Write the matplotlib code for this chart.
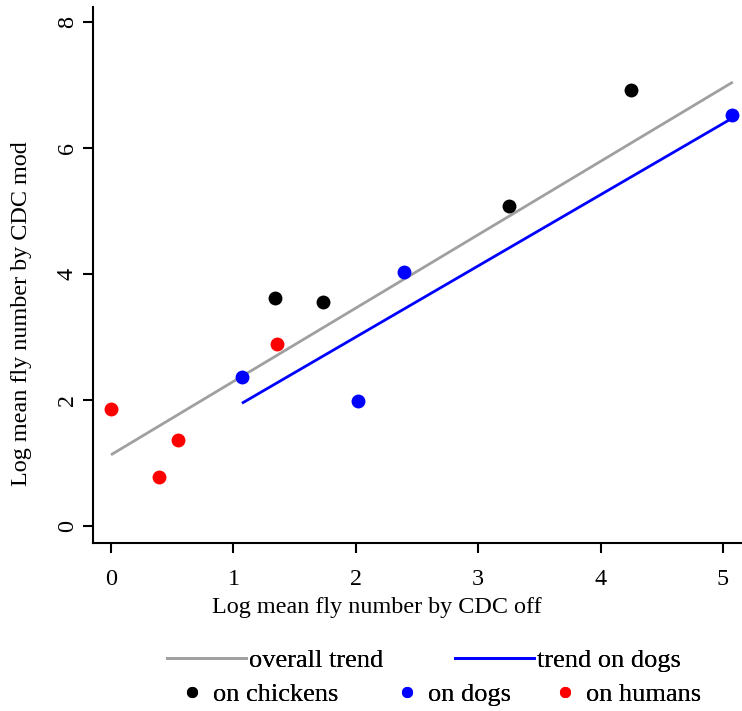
import matplotlib
matplotlib.use('Agg')
import matplotlib.pyplot as plt
from matplotlib.lines import Line2D

# data
chicken_x = [1.34, 1.73, 3.25, 4.25]
chicken_y = [3.62, 3.55, 5.08, 6.93]
dog_x = [1.07, 2.02, 2.39, 5.07]
dog_y = [2.37, 1.99, 4.03, 6.52]
human_x = [0.0, 0.39, 0.55, 1.36]
human_y = [1.86, 0.77, 1.36, 2.89]

# trend lines: intercept, slope, x range
overall_trend = (1.13, 1.165)
overall_range = (0.0, 5.08)
dog_trend = (0.74, 1.13)
dog_range = (1.07, 5.08)

x_ticks = [0, 1, 2, 3, 4, 5]
y_ticks = [0, 2, 4, 6, 8]

plt.rcParams['font.family'] = ['Liberation Serif', 'DejaVu Serif']
FS = 17.4
LFS = 19

GREY = '#a0a0a0'
BLUE = '#0000ff'
RED = '#ff0000'

fig = plt.figure(figsize=(7.42, 7.11), dpi=100)
ax = fig.add_axes([93 / 742, 1 - 543 / 711, 1 - 93 / 742, (543 - 7) / 711])

xs = overall_range
ax.plot(xs, [overall_trend[0] + overall_trend[1] * x for x in xs], color=GREY, lw=2, solid_capstyle='butt')
xs = dog_range
ax.plot(xs, [dog_trend[0] + dog_trend[1] * x for x in xs], color=BLUE, lw=2, solid_capstyle='butt')

ax.scatter(chicken_x, chicken_y, s=100, c='black', linewidths=0, zorder=3)
ax.scatter(dog_x, dog_y, s=100, c=BLUE, linewidths=0, zorder=3)
ax.scatter(human_x, human_y, s=100, c=RED, linewidths=0, zorder=3)

ax.set_xlim(-0.147, 5.155)
ax.set_ylim(-0.27, 8.24)
ax.set_xticks(x_ticks)
ax.set_yticks(y_ticks)
ax.set_xticklabels([str(t) for t in x_ticks], fontsize=FS)
ax.set_yticklabels([str(t) for t in y_ticks], fontsize=FS, rotation=90, va='center')
ax.tick_params(direction='out', length=7.5, width=1.5)
ax.tick_params(axis='x', pad=11)
ax.tick_params(axis='y', pad=3.5)
ax.spines['top'].set_visible(False)
ax.spines['right'].set_visible(False)
ax.spines['left'].set_linewidth(1.5)
ax.spines['bottom'].set_linewidth(1.5)

fig.text(377 / 742, 1 - 607 / 711, 'Log mean fly number by CDC off', fontsize=FS, ha='center', va='center')
fig.text(22 / 742, 1 - 314 / 711, 'Log mean fly number by CDC mod', fontsize=FS, ha='center', va='center', rotation=90)

# legend entries placed one by one, like R's legend() layout
line_entries = [('overall trend', GREY, 167), ('trend on dogs', BLUE, 455)]
dot_entries = [('on chickens', 'black', 179), ('on dogs', BLUE, 394), ('on humans', RED, 552)]

for label, color, x0 in line_entries:
    leg = fig.legend([Line2D([], [], color=color, lw=2)], [label], frameon=False, fontsize=LFS,
                     loc='center left', bbox_to_anchor=(x0 / 742, 1 - 660 / 711),
                     handlelength=3.0, handletextpad=0.1, borderpad=0, borderaxespad=0)
    fig.add_artist(leg)
for label, color, x0 in dot_entries:
    leg = fig.legend([Line2D([], [], marker='o', ls='', color=color, markersize=7)], [label], frameon=False,
                     fontsize=LFS, loc='center left', bbox_to_anchor=(x0 / 742, 1 - 694 / 711),
                     handlelength=1.0, handletextpad=0.27, borderpad=0, borderaxespad=0)
    fig.add_artist(leg)

fig.savefig('out.png', dpi=100)
